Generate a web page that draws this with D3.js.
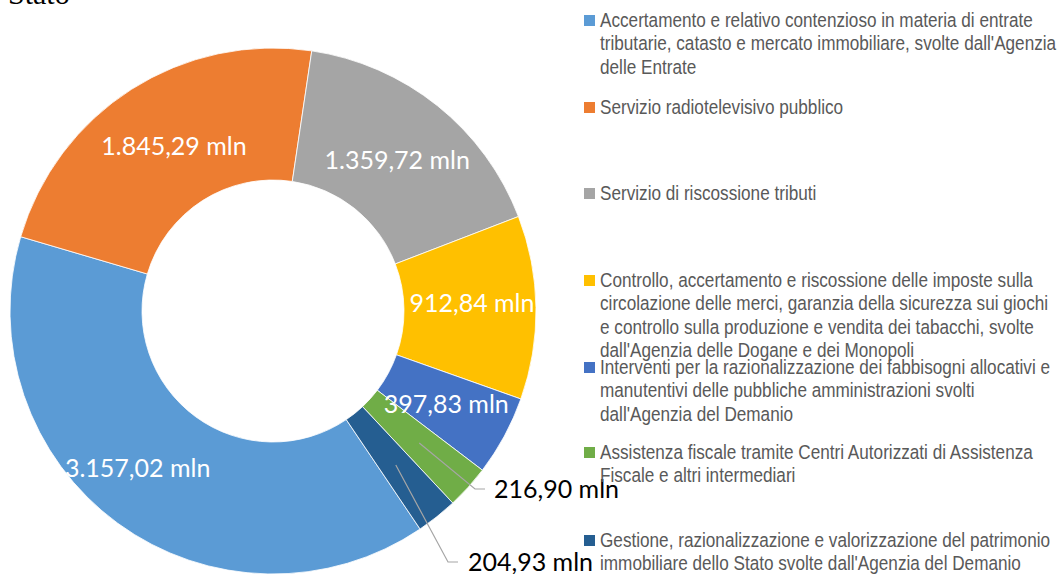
<!DOCTYPE html>
<html>
<head>
<meta charset="utf-8">
<script src="https://cdn.jsdelivr.net/npm/d3@7/dist/d3.min.js"></script>
<style>
  html, body { margin: 0; padding: 0; background: #fff; }
  svg { display: block; }
</style>
</head>
<body>
<svg id="chart" width="1059" height="574"></svg>
<script>
// ---- data ----
const categories = [
  "Accertamento e relativo contenzioso in materia di entrate tributarie, catasto e mercato immobiliare, svolte dall'Agenzia delle Entrate",
  "Servizio radiotelevisivo pubblico",
  "Servizio di riscossione tributi",
  "Controllo, accertamento e riscossione delle imposte sulla circolazione delle merci, garanzia della sicurezza sui giochi e controllo sulla produzione e vendita dei tabacchi, svolte dall'Agenzia delle Dogane e dei Monopoli",
  "Interventi per la razionalizzazione dei fabbisogni allocativi e manutentivi delle pubbliche amministrazioni svolti dall'Agenzia del Demanio",
  "Assistenza fiscale tramite Centri Autorizzati di Assistenza Fiscale e altri intermediari",
  "Gestione, razionalizzazione e valorizzazione del patrimonio immobiliare dello Stato svolte dall'Agenzia del Demanio"
];
const legendLines = [
  ["Accertamento e relativo contenzioso in materia di entrate", "tributarie, catasto e mercato immobiliare, svolte dall'Agenzia", "delle Entrate"],
  ["Servizio radiotelevisivo pubblico"],
  ["Servizio di riscossione tributi"],
  ["Controllo, accertamento e riscossione delle imposte sulla", "circolazione delle merci, garanzia della sicurezza sui giochi", "e controllo sulla produzione e vendita dei tabacchi, svolte", "dall'Agenzia delle Dogane e dei Monopoli"],
  ["Interventi per la razionalizzazione dei fabbisogni allocativi e", "manutentivi delle pubbliche amministrazioni svolti", "dall'Agenzia del Demanio"],
  ["Assistenza fiscale tramite Centri Autorizzati di Assistenza", "Fiscale e altri intermediari"],
  ["Gestione, razionalizzazione e valorizzazione del patrimonio", "immobiliare dello Stato svolte dall'Agenzia del Demanio"]
];
const values = [3157.02, 1845.29, 1359.72, 912.84, 397.83, 216.90, 204.93];
const valueLabels = ["3.157,02 mln", "1.845,29 mln", "1.359,72 mln", "912,84 mln", "397,83 mln", "216,90 mln", "204,93 mln"];
const colors = ["#5B9BD5", "#ED7D31", "#A5A5A5", "#FFC000", "#4472C4", "#70AD47", "#255E91"];

// ---- layout ----
const svg = d3.select("#chart");
const cx = 273, cy = 311, R = 263, r = 131;
const startDeg = 146;
const rad = d => d * Math.PI / 180;

// partial title at top (cut off in the reference)
svg.append("text")
  .attr("x", 8).attr("y", 4)
  .attr("font-family", "Liberation Serif, serif")
  .attr("font-size", 30)
  .attr("fill", "#000")
  .text("Stato");

const pie = d3.pie().sort(null).value(d => d)
  .startAngle(rad(startDeg)).endAngle(rad(startDeg + 360));
const arcs = pie(values);
const arc = d3.arc().innerRadius(r).outerRadius(R);
const mid = d3.arc().innerRadius((R + r) / 2).outerRadius((R + r) / 2);

const g = svg.append("g").attr("transform", `translate(${cx},${cy})`);
g.selectAll("path.slice").data(arcs).join("path")
  .attr("class", "slice")
  .attr("d", arc)
  .attr("fill", (d, i) => colors[i])
  .attr("stroke", "#fff")
  .attr("stroke-width", 0.8);

// inside labels (nudges mimic the reference placement)
const nudge = {0: [-19, -2], 1: [7, 1], 2: [1, 3], 3: [2, -5], 4: [0, -1]};
const labelFont = "Lato, 'Open Sans', sans-serif";
arcs.forEach((d, i) => {
  if (i > 4) return;
  const [x, y] = mid.centroid(d);
  const n = nudge[i] || [0, 0];
  g.append("text")
    .attr("x", x + n[0]).attr("y", y + n[1] + 9)
    .attr("text-anchor", "middle")
    .attr("font-family", labelFont)
    .attr("font-size", 25)
    .attr("fill", "#fff")
    .text(valueLabels[i]);
});

// outside labels with leader lines
const outside = {
  5: {elbow: [202, 178], len: 10, gap: 9},
  6: {elbow: [175, 251], len: 10, gap: 10}
};
Object.keys(outside).forEach(k => {
  const i = +k;
  const o = outside[i];
  const [sx, sy] = mid.centroid(arcs[i]);
  const ex = o.elbow[0], ey = o.elbow[1];
  g.append("polyline")
    .attr("points", `${sx},${sy} ${ex},${ey} ${ex + o.len},${ey}`)
    .attr("fill", "none")
    .attr("stroke", "#A6A6A6")
    .attr("stroke-width", 1.2);
  g.append("text")
    .attr("x", ex + o.len + o.gap).attr("y", ey + 9)
    .attr("font-family", labelFont)
    .attr("font-size", 25)
    .attr("fill", "#000")
    .text(valueLabels[i]);
});

// legend
const legendBase = [27, 114, 200, 287, 374, 459, 547];
const lineH = 23.3;
const legend = svg.append("g");
legendLines.forEach((lines, i) => {
  const by = legendBase[i];
  legend.append("rect")
    .attr("x", 584).attr("y", by - 12)
    .attr("width", 11).attr("height", 11)
    .attr("fill", colors[i]);
  lines.forEach((t, j) => {
    legend.append("text")
      .attr("transform", `translate(600,${by + j * lineH}) scale(0.88,1)`)
      .attr("font-family", "'Liberation Sans', Arial, sans-serif")
      .attr("font-size", 19.5)
      .attr("fill", "#595959")
      .text(t);
  });
});
</script>
</body>
</html>
